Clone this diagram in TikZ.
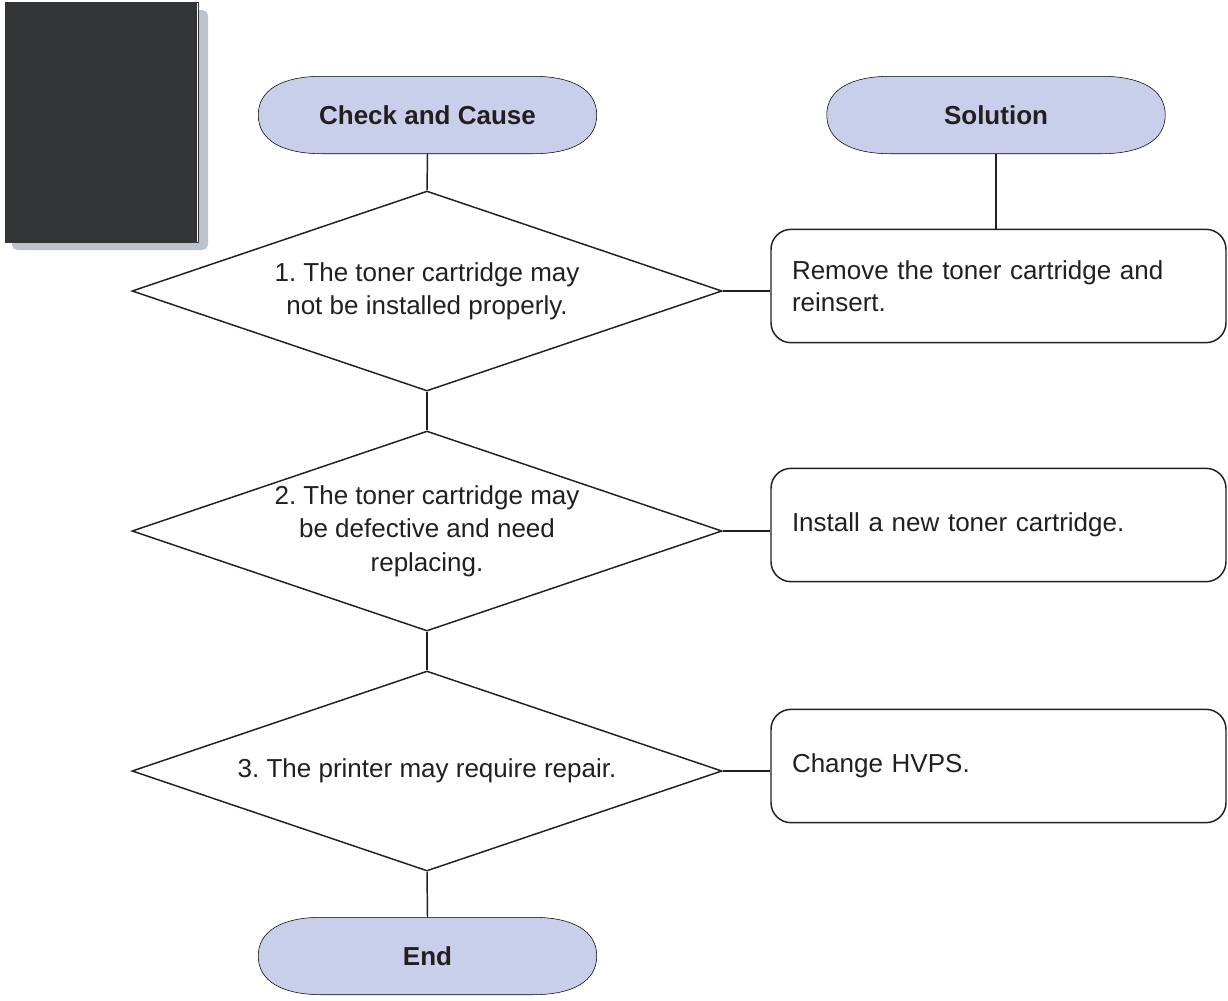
\documentclass[tikz,border=0pt]{standalone}
\usepackage{fontspec}
\setmainfont{Liberation Sans}
\usetikzlibrary{shapes.geometric,backgrounds,calc}
\definecolor{termfill}{RGB}{201,206,234}
\definecolor{darkbox}{RGB}{51,52,54}
\definecolor{shadowc}{RGB}{188,195,205}
\definecolor{ink}{RGB}{35,31,32}
\frenchspacing
\newcommand\termshape[1]{%
  \begin{scope}[on background layer]
    \draw[fill=termfill]
      ($(#1.north west)+(48pt,0)$) -- ($(#1.north east)+(-48pt,0)$)
      .. controls ($(#1.north east)+(-18pt,0)$) and ($(#1.east)+(0,19pt)$) .. (#1.east)
      .. controls ($(#1.east)+(0,-19pt)$) and ($(#1.south east)+(-18pt,0)$) .. ($(#1.south east)+(-48pt,0)$)
      -- ($(#1.south west)+(48pt,0)$)
      .. controls ($(#1.south west)+(18pt,0)$) and ($(#1.west)+(0,-19pt)$) .. (#1.west)
      .. controls ($(#1.west)+(0,19pt)$) and ($(#1.north west)+(18pt,0)$) .. ($(#1.north west)+(48pt,0)$)
      -- cycle;
  \end{scope}}
\begin{document}
\begin{tikzpicture}[x=0.75pt,y=-0.75pt,line width=1.1pt,draw=ink,text=ink,
  txt/.style={font=\fontsize{19.5}{24}\selectfont},
  term/.style={minimum width=252.75pt,minimum height=57pt,inner sep=0pt,
    font=\fontsize{19.5}{24}\selectfont\bfseries},
  dec/.style={diamond,draw,aspect=2.95,minimum width=442.5pt,minimum height=150pt,
    inner sep=0pt,align=center,font=\fontsize{19.5}{25}\selectfont},
  solbox/.style={draw,rounded corners=15pt,minimum width=341.25pt,minimum height=85pt,
    text width=309.75pt,inner xsep=15.75pt,align=left,txt}]
\useasboundingbox (0,0) rectangle (1228,1000);
% dark box
\fill[shadowc,rounded corners=4pt] (12,10) rectangle (208,250);
\fill[darkbox] (5,2) rectangle (199,243);
\draw[white,line width=0.6pt] (197.5,3) -- (197.5,242);
% terminals
\node[term] (cc) at (427.5,115) {Check and Cause};
\termshape{cc}
\node[term] (sol) at (996,115) {Solution};
\termshape{sol}
\node[term] (end) at (427.5,956) {End};
\termshape{end}
% decisions
\node[dec] (d1) at (427,291) {1. The toner cartridge may\\not be installed properly.};
\node[dec] (d2) at (427,531) {2. The toner cartridge may\\be defective and need\\replacing.};
\node[dec] (d3) at (427,771) {3. The printer may require repair.};
% solutions
\node[solbox] (b1) at (998.5,286) {Remove the toner cartridge and reinsert.};
\node[solbox] (b2) at (998.5,525) {Install a new toner cartridge.};
\node[solbox] (b3) at (998.5,766) {Change HVPS.};
% connectors
\draw (cc.south) -- (d1.north);
\draw (d1.south) -- (d2.north);
\draw (d2.south) -- (d3.north);
\draw (d3.south) -- (end.north);
\draw (sol.south) -- (sol.south |- b1.north);
\draw (d1.east) -- (d1.east -| b1.west);
\draw (d2.east) -- (d2.east -| b2.west);
\draw (d3.east) -- (d3.east -| b3.west);
\end{tikzpicture}
\end{document}
